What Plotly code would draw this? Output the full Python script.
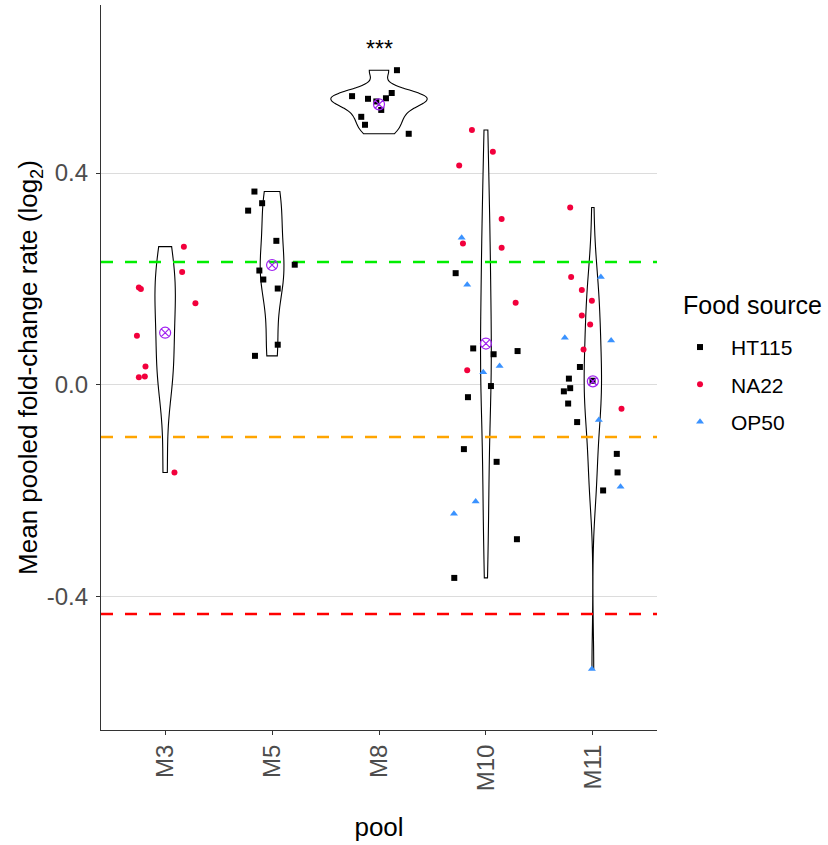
import numpy as np
import plotly.graph_objects as go

# ---------------- data ----------------
pools = ["M3", "M5", "M8", "M10", "M11"]
sources = ["HT115", "NA22", "OP50"]

HT115_pool = ["M5"] * 10 + ["M8"] * 10 + ["M10"] * 10 + ["M11"] * 10
HT115_value = [0.365, 0.343, 0.329, 0.272, 0.227, 0.216, 0.199, 0.182, 0.076, 0.055,
               0.594, 0.545, 0.540, 0.535, 0.541, 0.551, 0.519, 0.506, 0.491, 0.474,
               0.211, 0.069, 0.064, 0.058, -0.002, -0.023, -0.121, -0.145, -0.291, -0.364,
               0.034, 0.012, -0.006, -0.012, -0.035, -0.070, -0.130, -0.165, -0.199, 0.008]
HT115_jitter = [-0.165, -0.093, -0.224, 0.040, 0.212, -0.119, -0.082, 0.053, 0.053, -0.160,
                0.168, -0.252, -0.103, -0.025, 0.065, 0.119, 0.021, -0.166, -0.131, 0.278,
                -0.283, -0.119, 0.296, 0.072, 0.047, -0.168, -0.206, 0.100, 0.290, -0.296,
                -0.121, -0.224, -0.212, -0.271, -0.231, -0.147, 0.224, 0.231, 0.096, -0.003]

NA22_pool = ["M3"] * 10 + ["M10"] * 8 + ["M11"] * 8
NA22_value = [0.261, 0.213, 0.184, 0.181, 0.154, 0.093, 0.035, 0.0145, 0.016, -0.165,
              0.481, 0.440, 0.414, 0.313, 0.267, 0.259, 0.155, 0.028,
              0.335, 0.204, 0.179, 0.159, 0.131, 0.114, 0.067, -0.045]
NA22_jitter = [0.175, 0.159, -0.246, -0.227, 0.283, -0.264, -0.184, -0.246, -0.190, 0.087,
               -0.131, 0.065, -0.250, 0.147, -0.215, 0.147, 0.278, -0.175,
               -0.212, -0.203, -0.103, -0.009, -0.103, -0.025, -0.087, 0.268]

OP50_pool = ["M10"] * 6 + ["M11"] * 6
OP50_value = [0.278, 0.189, 0.036, 0.024, -0.220, -0.243,
              0.204, 0.089, 0.084, -0.066, -0.192, -0.536]
OP50_jitter = [-0.227, -0.175, 0.128, -0.025, -0.096, -0.299,
               0.075, -0.262, 0.171, 0.056, 0.259, -0.009]

threshold_values = [0.232, -0.098, -0.432]
sig_pool = "M8"
sig_label = "***"
legend_title = "Food source"

y_ticks = [-0.4, 0.0, 0.4]
y_tick_labels = ["-0.4", "0.0", "0.4"]

# ---------------- styles ----------------
FONT = "Liberation Sans, Arial, sans-serif"
src_style = {
    "HT115": dict(symbol="square", color="#000000", size=6),
    "NA22": dict(symbol="circle", color="#F2003C", size=6),
    "OP50": dict(symbol="triangle-up", color="#3A92FF", size=7),
}
threshold_colors = ["#00EE00", "#FFA500", "#FF0000"]
MEAN_COLOR = "#A020F0"

src_data = {
    "HT115": (HT115_pool, HT115_value, HT115_jitter),
    "NA22": (NA22_pool, NA22_value, NA22_jitter),
    "OP50": (OP50_pool, OP50_value, OP50_jitter),
}
pool_pos = {p: i + 1 for i, p in enumerate(pools)}

pool_vals = {p: [] for p in pools}
for s in sources:
    pl, vl, _ = src_data[s]
    for p, v in zip(pl, vl):
        pool_vals[p].append(v)


def bw_nrd0(x):
    x = np.asarray(x, float)
    sd = np.std(x, ddof=1)
    q75, q25 = np.percentile(x, [75, 25])
    lo = min(sd, (q75 - q25) / 1.34)
    if lo <= 0:
        lo = sd
    return 0.9 * lo * len(x) ** (-0.2)


fig = go.Figure()

# violins (shared scale group -> equal-area scaling like ggplot)
for p in pools:
    vals = np.array(pool_vals[p])
    fig.add_trace(go.Violin(
        x=np.full(len(vals), pool_pos[p]), y=vals,
        bandwidth=bw_nrd0(vals), spanmode="hard",
        scalegroup="all", scalemode="width",
        points=False, box_visible=False, meanline_visible=False,
        fillcolor="white", line=dict(color="#000000", width=1.1),
        showlegend=False, hoverinfo="skip", orientation="v",
    ))

# threshold lines
for v, c in zip(threshold_values, threshold_colors):
    fig.add_trace(go.Scatter(
        x=[0.4, 5.6], y=[v, v], mode="lines",
        line=dict(color=c, width=2.6, dash="12px,12px"),
        showlegend=False, hoverinfo="skip",
    ))

# jittered points
for s in sources:
    pl, vl, jl = src_data[s]
    st = src_style[s]
    fig.add_trace(go.Scatter(
        x=[pool_pos[p] + j for p, j in zip(pl, jl)], y=vl,
        mode="markers", name=s, legendgroup=s,
        marker=dict(symbol=st["symbol"], color=st["color"], size=st["size"], line=dict(width=0)),
    ))

# means
fig.add_trace(go.Scatter(
    x=[pool_pos[p] for p in pools], y=[float(np.mean(pool_vals[p])) for p in pools],
    mode="markers", showlegend=False, hoverinfo="skip",
    marker=dict(symbol="circle-x-open", color=MEAN_COLOR, size=11, line=dict(width=1.2, color=MEAN_COLOR)),
))

fig.add_annotation(
    x=pool_pos[sig_pool], y=max(pool_vals[sig_pool]), yshift=21, text=sig_label,
    showarrow=False, font=dict(family=FONT, size=23, color="black"), yanchor="middle",
)
fig.add_annotation(
    xref="paper", yref="paper", x=1.043, y=0.586, xanchor="left", yanchor="middle",
    text=legend_title, showarrow=False, font=dict(family=FONT, size=25, color="black"),
)

fig.update_layout(
    width=828, height=845,
    margin=dict(l=101, r=171, t=5, b=115, autoexpand=False),
    plot_bgcolor="white", paper_bgcolor="white",
    font=dict(family=FONT),
    violinmode="overlay", violingap=0.1, violingroupgap=0,
    legend=dict(
        font=dict(size=21, color="black", family=FONT),
        x=1.0216, xanchor="left", y=0.556, yanchor="top",
        traceorder="grouped", tracegroupgap=7, itemwidth=52,
    ),
    xaxis=dict(
        range=[0.4, 5.6], tickmode="array", tickvals=[pool_pos[p] for p in pools], ticktext=pools,
        tickangle=-90, ticks="outside", ticklen=4, tickcolor="#333333", tickwidth=1.1,
        tickfont=dict(size=24, color="#4D4D4D", family=FONT),
        showline=True, linecolor="#333333", linewidth=1.1, showgrid=False, zeroline=False,
        title=dict(text="pool", font=dict(size=26, color="black", family=FONT), standoff=27),
        automargin=False,
    ),
    yaxis=dict(
        range=[-0.651, 0.717], tickmode="array", tickvals=y_ticks, ticktext=y_tick_labels,
        ticks="outside", ticklen=4, tickcolor="#333333", tickwidth=1.1, ticklabelstandoff=3,
        tickfont=dict(size=24, color="#4D4D4D", family=FONT),
        showline=True, linecolor="#333333", linewidth=1.1,
        showgrid=True, gridcolor="#DCDCDC", gridwidth=1, zeroline=False,
        title=dict(text="Mean pooled fold-change rate (log<sub>2</sub>)",
                   font=dict(size=26, color="black", family=FONT), standoff=1),
        automargin=False,
    ),
)

fig.write_html("out.html", config={"displayModeBar": False},
               post_script="document.body.style.margin='0px';")
